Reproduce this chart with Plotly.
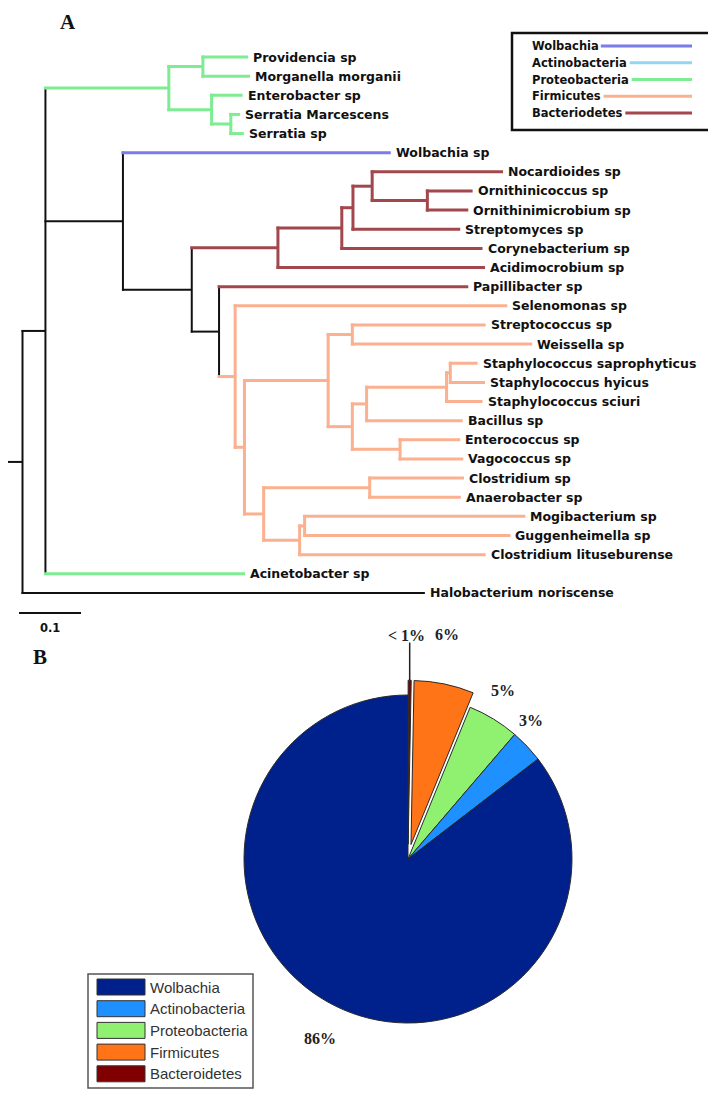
import math
import plotly.graph_objects as go

PAGE_W, PAGE_H = 716, 1094
OFF = 8                      # browser default body margin
W, H = PAGE_W - OFF, PAGE_H - OFF

# ---------------- Panel A: phylogenetic tree data ----------------
node_names = [
    "root", "nA", "nProt", "nP1", "Providencia sp", "Morganella morganii",
    "nP2", "Enterobacter sp", "nP3", "Serratia Marcescens", "Serratia sp",
    "nB", "Wolbachia sp", "nC", "nD", "nE", "nF", "nG", "Nocardioides sp",
    "nH", "Ornithinicoccus sp", "Ornithinimicrobium sp", "Streptomyces sp",
    "Corynebacterium sp", "Acidimocrobium sp", "nI", "Papillibacter sp",
    "nJ", "Selenomonas sp", "nK", "nL", "nM", "Streptococcus sp",
    "Weissella sp", "nN", "nO", "nP", "nQ", "Staphylococcus saprophyticus",
    "Staphylococcus hyicus", "Staphylococcus sciuri", "Bacillus sp", "nR",
    "Enterococcus sp", "Vagococcus sp", "nS", "nT", "Clostridium sp",
    "Anaerobacter sp", "nU", "nV", "Mogibacterium sp", "Guggenheimella sp",
    "Clostridium lituseburense", "Acinetobacter sp", "Halobacterium noriscense",
]
node_parents = [
    None, "root", "nA", "nProt", "nP1", "nP1",
    "nProt", "nP2", "nP2", "nP3", "nP3",
    "nA", "nB", "nB", "nC", "nD", "nE", "nF", "nG",
    "nG", "nH", "nH", "nF",
    "nE", "nD", "nC", "nI",
    "nI", "nJ", "nJ", "nK", "nL", "nM",
    "nM", "nL", "nN", "nO", "nP", "nQ",
    "nQ", "nP", "nO", "nN",
    "nR", "nR", "nK", "nS", "nT",
    "nT", "nS", "nU", "nV", "nV",
    "nU", "nA", "root",
]
branch_lengths = [
    0.027, 0.037, 0.199, 0.055, 0.073, 0.076,
    0.069, 0.050, 0.031, 0.015, 0.021,
    0.125, 0.432, 0.111, 0.139, 0.103, 0.018, 0.031, 0.211,
    0.089, 0.073, 0.066, 0.173,
    0.227, 0.334, 0.044, 0.402,
    0.026, 0.439, 0.015, 0.135, 0.039, 0.215,
    0.290, 0.039, 0.023, 0.129, 0.006, 0.044,
    0.056, 0.058, 0.155, 0.077,
    0.097, 0.102, 0.031, 0.171, 0.152,
    0.147, 0.058, 0.008, 0.356, 0.332,
    0.300, 0.322, 0.649,
]
P, K, F, WB, BB = "Proteobacteria", "Bacteriodetes", "Firmicutes", "Wolbachia", "backbone"
node_clades = [
    BB, BB, P, P, P, P,
    P, P, P, P, P,
    BB, WB, BB, K, K, K, K, K,
    K, K, K, K,
    K, K, BB, K,
    F, F, F, F, F, F,
    F, F, F, F, F, F,
    F, F, F, F,
    F, F, F, F, F,
    F, F, F, F, F,
    F, P, BB,
]

tree_legend_labels = ["Wolbachia", "Actinobacteria", "Proteobacteria", "Firmicutes", "Bacteriodetes"]
tree_legend_colors = ["#7b7bec", "#93d5f2", "#7eec92", "#fbb08f", "#a2474c"]
scale_bar_length = 0.1
scale_bar_label = "0.1"

# ---------------- Panel B: pie data (legend order) ----------------
pie_labels = ["Wolbachia", "Actinobacteria", "Proteobacteria", "Firmicutes", "Bacteroidetes"]
pie_values = [85.6, 3.3, 5.1, 5.9, 0.3]
pie_text = ["86%", "3%", "5%", "6%", "< 1%"]
pie_colors = ["#00208c", "#1e90ff", "#90f070", "#ff7417", "#800000"]
pie_pull = [0, 0, 0, 0.09, 0.09]

# ---------------- geometry helpers ----------------
X_PER_UNIT = 620.0      # px per tree unit
ROOT_X = 22.5           # page px of root
TIP0_Y = 57.0           # page px of first tip
TIP_DY = 19.14          # px between tips


def pxx(x):
    return (x - OFF) / W


def pxy(y):
    return 1 - (y - OFF) / H


clade_colors = dict(zip(tree_legend_labels, tree_legend_colors))
clade_colors[BB] = "#111111"
clade_width = {c: 3 for c in clade_colors}
clade_width[BB] = 2

n = len(node_names)
idx = {nm: i for i, nm in enumerate(node_names)}
children = {i: [] for i in range(n)}
for i, p in enumerate(node_parents):
    if p is not None:
        children[idx[p]].append(i)

depth = [0.0] * n
for i in range(n):
    p = node_parents[i]
    depth[i] = 0.0 if p is None else depth[idx[p]] + branch_lengths[i]

ypos = [None] * n
k = 0
for i in range(n):
    if not children[i]:
        ypos[i] = k
        k += 1
for i in reversed(range(n)):
    if children[i]:
        ys = [ypos[c] for c in children[i]]
        ypos[i] = (ys[0] + ys[-1]) / 2

segs = {}
for i in range(n):
    c = node_clades[i]
    lw = clade_width[c]
    exx = lw / 2 / X_PER_UNIT
    exy = lw / 2 / TIP_DY
    xs, ys = segs.setdefault(c, ([], []))
    p = node_parents[i]
    x0 = depth[idx[p]] - exx if p is not None else -branch_lengths[i]
    xs += [x0, depth[i], None]
    ys += [ypos[i], ypos[i], None]
    if children[i]:
        cy = [ypos[ch] for ch in children[i]]
        xs += [depth[i], depth[i], None]
        ys += [min(cy) - exy, max(cy) + exy, None]

fig = go.Figure()
for c in [BB, P, WB, K, F]:
    xs, ys = segs[c]
    fig.add_trace(go.Scatter(
        x=xs, y=ys, mode="lines", showlegend=False, hoverinfo="skip",
        line=dict(color=clade_colors[c], width=clade_width[c]),
    ))

# scale bar
sb_y = k + 0.05
sb_x0 = -0.0056
fig.add_trace(go.Scatter(
    x=[sb_x0, sb_x0 + scale_bar_length], y=[sb_y, sb_y], mode="lines",
    showlegend=False, hoverinfo="skip", line=dict(color="#111111", width=2),
))

annotations = []
tip_font = dict(family="DejaVu Sans", size=12.5, color="#111111")
for i in range(n):
    if not children[i]:
        annotations.append(dict(
            x=depth[i], y=ypos[i], xref="x", yref="y", text="<b>%s</b>" % node_names[i],
            showarrow=False, xanchor="left", yanchor="middle", xshift=3, font=tip_font,
        ))
annotations.append(dict(
    x=sb_x0 + scale_bar_length / 2, y=sb_y, xref="x", yref="y", text="<b>%s</b>" % scale_bar_label,
    showarrow=False, xanchor="center", yanchor="middle", yshift=-15,
    font=dict(family="DejaVu Sans", size=11.5, color="#111111"),
))

# panel letters
annotations.append(dict(
    x=pxx(68), y=pxy(OFF + 0.5), xref="paper", yref="paper", text="<b>A</b>",
    showarrow=False, xanchor="center", yanchor="top", borderpad=0,
    font=dict(family="Liberation Serif", size=21, color="#111111"),
))
annotations.append(dict(
    x=pxx(40), y=pxy(657), xref="paper", yref="paper", text="<b>B</b>",
    showarrow=False, xanchor="center", yanchor="middle",
    font=dict(family="Liberation Serif", size=21, color="#111111"),
))

shapes = []

# tree legend
CHW = {"A": .774, "B": .762, "F": .683, "P": .733, "W": .98, "a": .675, "b": .716, "c": .593,
       "d": .716, "e": .678, "h": .712, "i": .343, "l": .343, "m": 1.042, "n": .712, "o": .687,
       "p": .716, "r": .493, "s": .595, "t": .478, "u": .712}
leg_fs = 11.5
shapes.append(dict(type="rect", xref="paper", yref="paper", x0=pxx(512), x1=pxx(710),
                   y0=pxy(130), y1=pxy(33), line=dict(color="#111111", width=2.5)))
for j, (lab, col) in enumerate(zip(tree_legend_labels, tree_legend_colors)):
    ry = 46 + 16.75 * j
    annotations.append(dict(
        x=pxx(530), y=pxy(ry), xref="paper", yref="paper", text="<b>%s</b>" % lab,
        showarrow=False, xanchor="left", yanchor="middle",
        font=dict(family="DejaVu Sans", size=leg_fs, color="#111111"),
    ))
    tw = sum(CHW.get(ch, .65) for ch in lab) * leg_fs
    shapes.append(dict(type="line", xref="paper", yref="paper",
                       x0=pxx(530 + tw + 5), x1=pxx(692), y0=pxy(ry), y1=pxy(ry),
                       line=dict(color=col, width=3)))

# ---------------- pie ----------------
CX, CY, R = 408.0, 859.0, 164.0
half = R * (1 + max(pie_pull))
draw_order = list(range(len(pie_values)))[::-1]   # clockwise from 12 o'clock
fig.add_trace(go.Pie(
    values=[pie_values[j] for j in draw_order],
    labels=[pie_labels[j] for j in draw_order],
    sort=False, direction="clockwise", rotation=0,
    pull=[pie_pull[j] for j in draw_order],
    textinfo="none", showlegend=False, hoverinfo="skip",
    marker=dict(colors=[pie_colors[j] for j in draw_order], line=dict(color="#2a2a2a", width=1)),
    domain=dict(x=[pxx(CX - half), pxx(CX + half)], y=[pxy(CY + half), pxy(CY - half)]),
))

total = sum(pie_values)
label_r = [1.22, 1.13, 1.18, 1.30]
label_dang = [0, -5, -2, -2]
pie_font = dict(family="Liberation Serif", size=16, color="#222222")
cum = 0.0
mids = {}
for j in draw_order:
    f = pie_values[j] / total
    mids[j] = 360 * (cum + f / 2)
    cum += f
for j in range(len(pie_values)):
    a = math.radians(mids[j])
    pull_px = pie_pull[j] * R
    if j < 4:
        ang = math.radians(mids[j] + label_dang[j])
        r = label_r[j] * R
        lx = CX + pull_px * math.sin(a) + r * math.sin(ang)
        ly = CY - pull_px * math.cos(a) - r * math.cos(ang)
        annotations.append(dict(
            x=pxx(lx), y=pxy(ly), xref="paper", yref="paper", text="<b>%s</b>" % pie_text[j],
            showarrow=False, xanchor="center", yanchor="middle", font=pie_font,
        ))
    else:
        ex = CX + (R + pull_px) * math.sin(a)
        ey = CY - (R + pull_px) * math.cos(a)
        top = ey - 0.23 * R
        shapes.append(dict(type="line", xref="paper", yref="paper", x0=pxx(ex), x1=pxx(ex),
                           y0=pxy(ey), y1=pxy(top), line=dict(color="#222222", width=1.5)))
        annotations.append(dict(
            x=pxx(ex - 3), y=pxy(top - 7), xref="paper", yref="paper", text="<b>%s</b>" % pie_text[j],
            showarrow=False, xanchor="center", yanchor="middle", font=pie_font,
        ))

# pie legend
shapes.append(dict(type="rect", xref="paper", yref="paper", x0=pxx(88), x1=pxx(253),
                   y0=pxy(1088), y1=pxy(974), line=dict(color="#555555", width=1.5),
                   fillcolor="white"))
for j, (lab, col) in enumerate(zip(pie_labels, pie_colors)):
    ry = 987 + 21.7 * j
    shapes.append(dict(type="rect", xref="paper", yref="paper", x0=pxx(97), x1=pxx(145),
                       y0=pxy(ry + 8), y1=pxy(ry - 8), fillcolor=col,
                       line=dict(color="#333333", width=1)))
    annotations.append(dict(
        x=pxx(148), y=pxy(ry), xref="paper", yref="paper", text=lab,
        showarrow=False, xanchor="left", yanchor="middle",
        font=dict(family="Liberation Sans", size=15, color="#333333"),
    ))

fig.update_layout(
    width=W, height=H, margin=dict(l=0, r=0, t=0, b=0),
    paper_bgcolor="white", plot_bgcolor="white",
    xaxis=dict(range=[(OFF - ROOT_X) / X_PER_UNIT, (PAGE_W - ROOT_X) / X_PER_UNIT], visible=False,
               domain=[0, 1], fixedrange=True),
    yaxis=dict(range=[(PAGE_H - TIP0_Y) / TIP_DY, (OFF - TIP0_Y) / TIP_DY], visible=False,
               domain=[0, 1], fixedrange=True),
    shapes=shapes, annotations=annotations,
)

fig.write_html("out.html")
